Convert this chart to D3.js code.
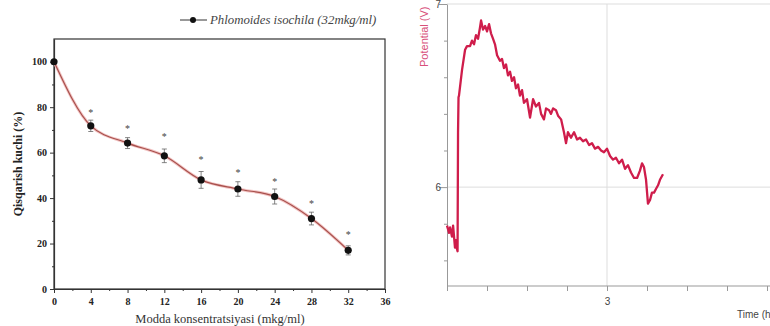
<!DOCTYPE html>
<html>
<head>
<meta charset="utf-8">
<script src="https://cdn.jsdelivr.net/npm/d3@7"></script>
<style>
  body { margin: 0; background: #fff; }
  svg { display: block; }
</style>
</head>
<body>
<svg id="chart" width="770" height="326"></svg>
<script>
// left panel: contraction strength vs concentration
const conc = [0, 4, 8, 12, 16, 20, 24, 28, 32];
const strength = [100, 71.8, 64.2, 58.6, 48, 44, 40.7, 31, 17];
const errors = [0, 2.5, 2.4, 3, 3.7, 3.2, 3.3, 2.8, 2];
const starLevel = [null, 77.7, 71, 67.5, 57, 51.4, 47.7, 38, 24];
const xTicksLeft = [0, 4, 8, 12, 16, 20, 24, 28, 32, 36];
const yTicksLeft = [0, 20, 40, 60, 80, 100];
const legendLabel = "Phlomoides isochila (32mkg/ml)";

// right panel: potential trace
const traceTime = [2.000, 2.013, 2.019, 2.031, 2.038, 2.050, 2.056, 2.063, 2.066, 2.069, 2.072, 2.075,
  2.094, 2.113, 2.125, 2.144, 2.156, 2.169, 2.181, 2.194, 2.206, 2.213, 2.225, 2.238, 2.250, 2.263,
  2.275, 2.288, 2.300, 2.313, 2.331, 2.344, 2.356, 2.369, 2.381, 2.394, 2.406, 2.419, 2.431, 2.444,
  2.456, 2.469, 2.481, 2.500, 2.519, 2.538, 2.556, 2.575, 2.588, 2.606, 2.619, 2.638, 2.650, 2.663,
  2.681, 2.694, 2.713, 2.731, 2.744, 2.756, 2.775, 2.794, 2.813, 2.831, 2.850, 2.869, 2.888, 2.906,
  2.925, 2.944, 2.963, 2.981, 3.000, 3.019, 3.038, 3.056, 3.075, 3.094, 3.113, 3.131, 3.150, 3.169,
  3.188, 3.206, 3.219, 3.231, 3.244, 3.256, 3.269, 3.281, 3.294, 3.306, 3.319, 3.331, 3.350];
const traceV = [5.79, 5.75, 5.78, 5.73, 5.79, 5.67, 5.71, 5.66, 5.65, 6.30, 6.49, 6.50,
  6.64, 6.75, 6.77, 6.77, 6.80, 6.78, 6.83, 6.81, 6.87, 6.91, 6.86, 6.88, 6.85, 6.89,
  6.84, 6.81, 6.78, 6.72, 6.69, 6.70, 6.65, 6.67, 6.61, 6.63, 6.58, 6.60, 6.54, 6.56,
  6.50, 6.53, 6.46, 6.48, 6.38, 6.48, 6.44, 6.46, 6.40, 6.37, 6.43, 6.42, 6.40, 6.43,
  6.42, 6.39, 6.37, 6.30, 6.24, 6.30, 6.27, 6.30, 6.26, 6.27, 6.25, 6.26, 6.23, 6.24,
  6.21, 6.22, 6.20, 6.19, 6.21, 6.17, 6.15, 6.16, 6.13, 6.15, 6.10, 6.12, 6.08, 6.05,
  6.05, 6.09, 6.13, 6.11, 6.04, 5.91, 5.93, 5.97, 5.97, 5.99, 6.01, 6.04, 6.07];
const timeTicks = [2, 2.25, 2.5, 2.75, 3, 3.25, 3.5, 3.75, 4];
const voltTicks = [5.6, 5.8, 6, 6.2, 6.4, 6.6, 6.8, 7];

const svg = d3.select("#chart");
const serif = "'Liberation Serif', 'DejaVu Serif', serif";
const sans = "'Liberation Sans', Arial, sans-serif";

// ---------- left chart ----------
const x = d3.scaleLinear().domain([0, 36]).range([54, 385]);
const y = d3.scaleLinear().domain([0, 110]).range([289, 39]);

const left = svg.append("g");

// frame
left.append("rect")
  .attr("x", x(0)).attr("y", y(110))
  .attr("width", x(36) - x(0)).attr("height", y(0) - y(110))
  .attr("fill", "none").attr("stroke", "#333").attr("stroke-width", 1.2);

const xAxis = left.append("g")
  .attr("transform", "translate(0," + y(0) + ")")
  .call(d3.axisBottom(x).tickValues(xTicksLeft).tickSize(4).tickSizeOuter(0));
xAxis.selectAll("text").attr("dy", "0.9em");
left.append("g")
  .attr("transform", "translate(0," + y(0) + ")")
  .call(d3.axisBottom(x).tickValues(d3.range(2, 36, 4)).tickSize(2).tickFormat(""))
  .select(".domain").remove();

const yAxis = left.append("g")
  .attr("transform", "translate(" + x(0) + ",0)")
  .call(d3.axisLeft(y).tickValues(yTicksLeft).tickSize(4).tickSizeOuter(0));
left.append("g")
  .attr("transform", "translate(" + x(0) + ",0)")
  .call(d3.axisLeft(y).tickValues([10, 30, 50, 70, 90]).tickSize(2).tickFormat(""))
  .select(".domain").remove();

left.selectAll(".tick line").attr("stroke", "#333");
left.selectAll(".domain").attr("stroke", "#333").attr("stroke-width", 1.2);
left.selectAll(".tick text")
  .attr("font-family", serif).attr("font-size", 10).attr("font-weight", "bold").attr("fill", "#222");

// smooth line
const pts = conc.map((c, i) => ({ c: c, v: strength[i], e: errors[i], s: starLevel[i] }));
left.append("path")
  .datum(pts)
  .attr("fill", "none")
  .attr("stroke", "#f2c4c4")
  .attr("stroke-width", 3)
  .attr("d", d3.line().x(d => x(d.c)).y(d => y(d.v)).curve(d3.curveMonotoneX));
left.append("path")
  .datum(pts)
  .attr("fill", "none")
  .attr("stroke", "#a8504c")
  .attr("stroke-width", 1.2)
  .attr("d", d3.line().x(d => x(d.c)).y(d => y(d.v)).curve(d3.curveMonotoneX));

// error bars
const eb = left.selectAll(".eb").data(pts.filter(d => d.e > 0)).enter().append("g").attr("class", "eb");
eb.append("line")
  .attr("x1", d => x(d.c)).attr("x2", d => x(d.c))
  .attr("y1", d => y(d.v + d.e)).attr("y2", d => y(d.v - d.e))
  .attr("stroke", "#666").attr("stroke-width", 0.8);
eb.append("line")
  .attr("x1", d => x(d.c) - 2.5).attr("x2", d => x(d.c) + 2.5)
  .attr("y1", d => y(d.v + d.e)).attr("y2", d => y(d.v + d.e))
  .attr("stroke", "#666").attr("stroke-width", 0.8);
eb.append("line")
  .attr("x1", d => x(d.c) - 2.5).attr("x2", d => x(d.c) + 2.5)
  .attr("y1", d => y(d.v - d.e)).attr("y2", d => y(d.v - d.e))
  .attr("stroke", "#666").attr("stroke-width", 0.8);

// markers
left.selectAll(".pt").data(pts).enter().append("circle")
  .attr("cx", d => x(d.c)).attr("cy", d => y(d.v)).attr("r", 3.6)
  .attr("fill", "#111");

// significance stars
left.selectAll(".star").data(pts.filter(d => d.s !== null)).enter().append("text")
  .attr("x", d => x(d.c)).attr("y", d => y(d.s) + 4)
  .attr("text-anchor", "middle")
  .attr("font-family", serif).attr("font-size", 10).attr("fill", "#444")
  .text("*");

// axis titles
left.append("text")
  .attr("transform", "translate(22," + 164 + ") rotate(-90)")
  .attr("text-anchor", "middle")
  .attr("font-family", serif).attr("font-size", 12).attr("font-weight", "bold").attr("fill", "#222")
  .text("Qisqarish kuchi (%)");
left.append("text")
  .attr("x", 220).attr("y", 323)
  .attr("text-anchor", "middle")
  .attr("font-family", serif).attr("font-size", 12.5).attr("fill", "#333")
  .text("Modda konsentratsiyasi (mkg/ml)");

// legend
left.append("line").attr("x1", 180).attr("x2", 207).attr("y1", 20).attr("y2", 20)
  .attr("stroke", "#333").attr("stroke-width", 1);
left.append("circle").attr("cx", 193).attr("cy", 20).attr("r", 3).attr("fill", "#111");
left.append("text")
  .attr("x", 210).attr("y", 24)
  .attr("font-family", serif).attr("font-size", 12.8).attr("font-style", "italic").attr("fill", "#444")
  .text(legendLabel);

// ---------- right chart ----------
const tx = d3.scaleLinear().domain([2, 4]).range([447, 767]);
const ty = d3.scaleLinear().domain([5.46, 7]).range([286, 4]);
const right = svg.append("g");

// grid
right.selectAll(".hg").data([6, 7]).enter().append("line")
  .attr("x1", tx(2)).attr("x2", 770)
  .attr("y1", d => ty(d)).attr("y2", d => ty(d))
  .attr("stroke", "#ddd").attr("stroke-width", 1);
right.append("line")
  .attr("x1", tx(3)).attr("x2", tx(3)).attr("y1", ty(7)).attr("y2", ty(5.46))
  .attr("stroke", "#ddd").attr("stroke-width", 1);

const bx = right.append("g")
  .attr("transform", "translate(0," + ty(5.46) + ")")
  .call(d3.axisBottom(tx).tickValues(timeTicks).tickSize(5).tickSizeOuter(0)
    .tickFormat(d => d === 3 ? "3" : ""));
bx.select(".domain").attr("d", "M" + tx(2) + ",0H770");
bx.selectAll("text").attr("dy", "1.1em");

const by = right.append("g")
  .attr("transform", "translate(" + tx(2) + ",0)")
  .call(d3.axisLeft(ty).tickValues(voltTicks).tickSize(3).tickSizeOuter(0)
    .tickFormat(d => (d === 6 || d === 7) ? d3.format("d")(d) : ""));
by.selectAll(".tick line").attr("x2", d => (d === 6 || d === 7) ? -8 : -3);

right.selectAll(".domain").attr("stroke", "#999");
right.selectAll(".tick line").attr("stroke", "#999");
right.selectAll(".tick text").attr("font-family", sans).attr("font-size", 10).attr("fill", "#444");

right.append("path")
  .datum(traceTime.map((t, i) => [t, traceV[i]]))
  .attr("fill", "none")
  .attr("stroke", "#cf1d4b")
  .attr("stroke-width", 2.3)
  .attr("stroke-linejoin", "round")
  .attr("d", d3.line().x(d => tx(d[0])).y(d => ty(d[1])));

right.append("text")
  .attr("transform", "translate(428,67) rotate(-90)")
  .attr("font-family", sans).attr("font-size", 11).attr("fill", "#d8507a")
  .text("Potential (V)");
right.append("text")
  .attr("x", 737).attr("y", 318)
  .attr("font-family", sans).attr("font-size", 10).attr("fill", "#444")
  .text("Time (h)");
</script>
</body>
</html>
